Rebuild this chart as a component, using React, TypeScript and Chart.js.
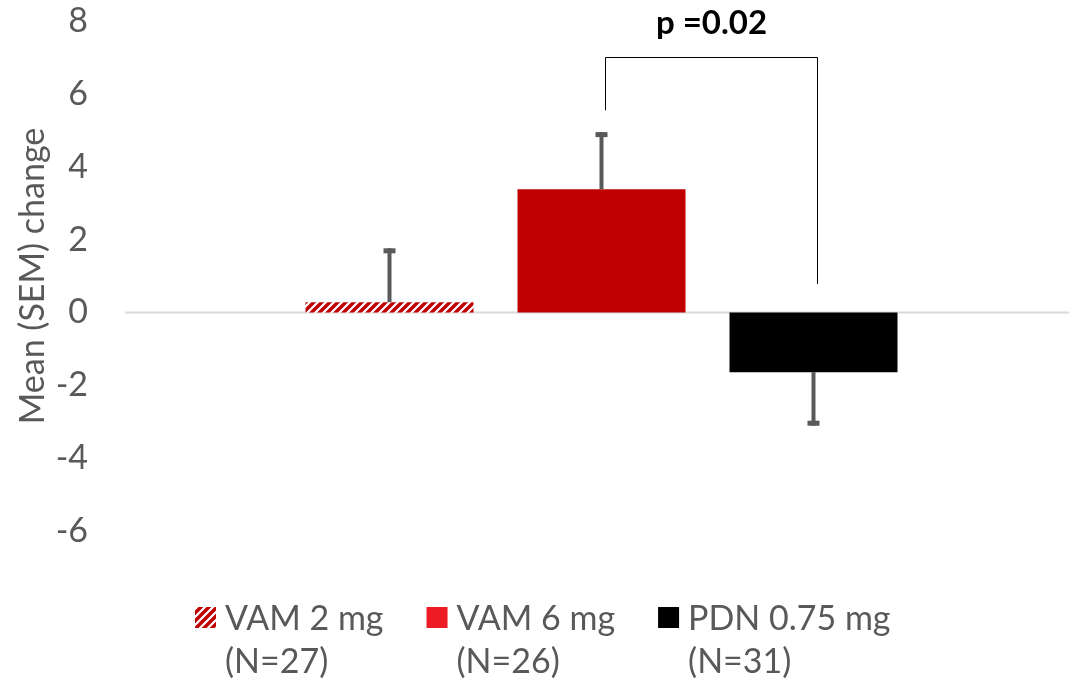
import React, { useEffect, useRef } from "react";
import { Chart, registerables } from "chart.js";

Chart.register(...registerables);

// ---- data ----
const categories = [""];
const seriesNames = ["VAM 2 mg", "VAM 6 mg", "PDN 0.75 mg"];
const seriesN = ["(N=27)", "(N=26)", "(N=31)"];
const meanChange = [0.28, 3.38, -1.64];
const semValues = [1.48, 1.57, 1.47];
const yMin = -6;
const yMax = 8;
const yStep = 2;
const yTitle = "Mean (SEM) change";
const pLabel = "p =0.02";
const bracketPair = [1, 2];
const bracketTopValue = 7.0;
const bracketEndValues = [5.55, 0.78];

// ---- styles ----
const FONT = "Lato, 'Open Sans', sans-serif";
const TEXT = "#595959";
const barColors = ["hatch", "#C00000", "#000000"];
const legendColors = ["hatch", "#ED1C24", "#000000"];

function makeHatch(): CanvasPattern | string {
  const c = document.createElement("canvas");
  c.width = 8;
  c.height = 8;
  const g = c.getContext("2d");
  if (!g) return "#C00000";
  g.fillStyle = "#ffffff";
  g.fillRect(0, 0, 8, 8);
  g.strokeStyle = "#C00000";
  g.lineWidth = 3.4;
  g.beginPath();
  g.moveTo(-2, 10);
  g.lineTo(10, -2);
  g.moveTo(-6, 6);
  g.lineTo(6, -6);
  g.moveTo(2, 14);
  g.lineTo(14, 2);
  g.stroke();
  return g.createPattern(c, "repeat") || "#C00000";
}

export default function App() {
  const ref = useRef<HTMLCanvasElement | null>(null);

  useEffect(() => {
    document.body.style.margin = "0";
    document.body.style.overflow = "hidden";
    const canvas = ref.current;
    if (!canvas) return;
    const hatch = makeHatch();
    const pick = (c: string) => (c === "hatch" ? hatch : c);

    const overlay = {
      id: "overlay",
      beforeDatasetsDraw(chart: any) {
        const ctx = chart.ctx;
        const y0 = chart.scales.y.getPixelForValue(0);
        ctx.save();
        ctx.strokeStyle = "#D9D9D9";
        ctx.lineWidth = 2;
        ctx.beginPath();
        ctx.moveTo(chart.chartArea.left - 9, y0);
        ctx.lineTo(chart.chartArea.right, y0);
        ctx.stroke();
        ctx.restore();
      },
      afterDatasetsDraw(chart: any) {
        const ctx = chart.ctx;
        const ys = chart.scales.y;
        const centers: number[] = [];
        ctx.save();
        // error bars
        meanChange.forEach((v, i) => {
          const el = chart.getDatasetMeta(i).data[0];
          const x = el.x;
          centers.push(x);
          const sign = v >= 0 ? 1 : -1;
          const yStart = ys.getPixelForValue(v);
          const yEnd = ys.getPixelForValue(v + sign * semValues[i]);
          ctx.strokeStyle = "#595959";
          ctx.fillStyle = "#595959";
          ctx.lineWidth = 4;
          ctx.beginPath();
          ctx.moveTo(x, yStart);
          ctx.lineTo(x, yEnd);
          ctx.stroke();
          const capH = 5;
          if (sign > 0) ctx.fillRect(x - 6, yEnd, 12, capH);
          else ctx.fillRect(x - 6, yEnd - capH, 12, capH);
        });
        // significance bracket
        const xl = Math.round(centers[bracketPair[0]] + 3.5) + 0.5;
        const xr = Math.round(centers[bracketPair[1]] + 3.5) + 0.5;
        const yt = Math.round(ys.getPixelForValue(bracketTopValue)) + 0.5;
        ctx.strokeStyle = "#000000";
        ctx.lineWidth = 1;
        ctx.beginPath();
        ctx.moveTo(xl, ys.getPixelForValue(bracketEndValues[0]));
        ctx.lineTo(xl, yt);
        ctx.lineTo(xr, yt);
        ctx.lineTo(xr, ys.getPixelForValue(bracketEndValues[1]));
        ctx.stroke();
        ctx.fillStyle = "#000000";
        ctx.font = `bold 33px ${FONT}`;
        ctx.textAlign = "center";
        ctx.textBaseline = "alphabetic";
        ctx.fillText(pLabel, (xl + xr) / 2, 34);

        // legend
        ctx.font = `34px ${FONT}`;
        ctx.textAlign = "left";
        const box = 21;
        const gapBox = 9;
        const gapItem = 43;
        const widths = seriesNames.map((s, i) =>
          Math.max(ctx.measureText(s).width, ctx.measureText(seriesN[i]).width)
        );
        const itemW = widths.map((w) => box + gapBox + w);
        const total = itemW.reduce((a, b) => a + b, 0) + gapItem * (itemW.length - 1);
        let x = Math.round(543 - total / 2);
        const base1 = 630;
        const base2 = 673;
        seriesNames.forEach((s, i) => {
          ctx.fillStyle = pick(legendColors[i]);
          ctx.fillRect(x, 607, box, box);
          ctx.fillStyle = TEXT;
          ctx.fillText(s, x + box + gapBox, base1);
          ctx.fillText(seriesN[i], x + box + gapBox, base2);
          x += itemW[i] + gapItem;
        });
        ctx.restore();
      },
    };

    const chart = new Chart(canvas, {
      type: "bar",
      data: {
        labels: categories,
        datasets: seriesNames.map((name, i) => ({
          label: name,
          data: [meanChange[i]],
          backgroundColor: pick(barColors[i]) as any,
          borderWidth: 0,
          categoryPercentage: 0.6802,
          barPercentage: 0.7925,
        })),
      },
      options: {
        animation: false,
        responsive: false,
        devicePixelRatio: 1,
        layout: { padding: { top: 21, bottom: 149, left: 0, right: 0 } },
        plugins: {
          legend: { display: false },
          tooltip: { enabled: false },
        },
        scales: {
          x: { display: false },
          y: {
            min: yMin,
            max: yMax,
            ticks: {
              stepSize: yStep,
              color: TEXT,
              padding: 46,
              font: { family: FONT, size: 34 },
            },
            grid: { display: false, drawTicks: false },
            border: { display: false },
            title: {
              display: true,
              text: yTitle,
              color: TEXT,
              font: { family: FONT, size: 34 },
              padding: { top: 13, bottom: 0 },
            },
            afterFit(scale: any) {
              scale.width = 134;
              scale.paddingTop = 0;
              scale.paddingBottom = 0;
            },
          },
        },
      },
      plugins: [overlay],
    });
    return () => chart.destroy();
  }, []);

  return (
    <div style={{ width: 1069, height: 680, background: "#ffffff" }}>
      <canvas ref={ref} width={1069} height={680} />
    </div>
  );
}
